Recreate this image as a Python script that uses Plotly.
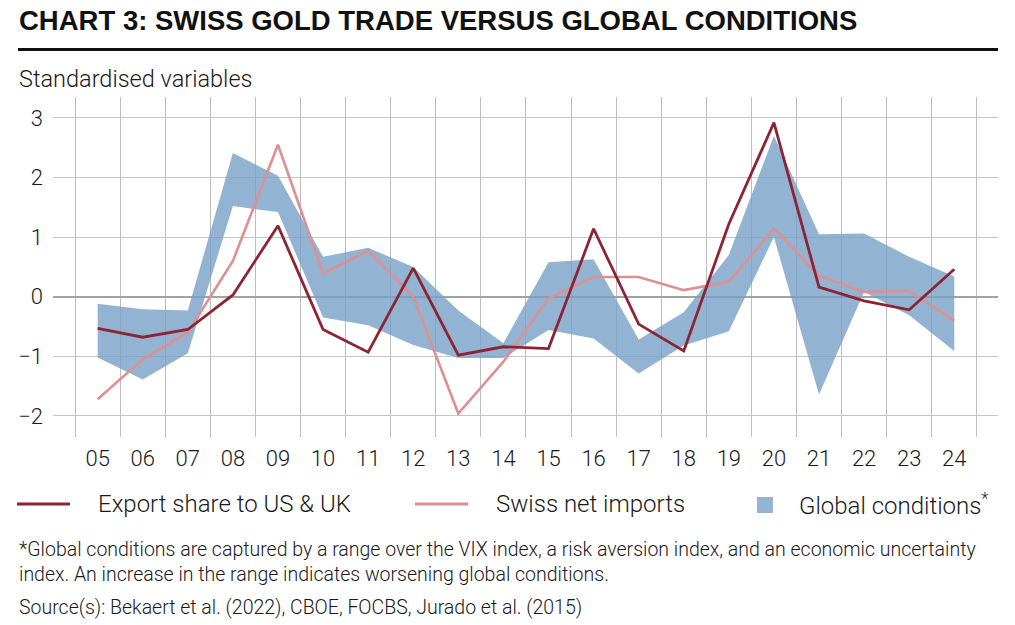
import plotly.graph_objects as go

# ---------------- data ----------------
years = ["05", "06", "07", "08", "09", "10", "11", "12", "13", "14",
         "15", "16", "17", "18", "19", "20", "21", "22", "23", "24"]
export_share = [-0.53, -0.68, -0.55, 0.03, 1.19, -0.55, -0.93, 0.48, -0.98, -0.84,
                -0.87, 1.14, -0.46, -0.91, 1.22, 2.92, 0.16, -0.07, -0.22, 0.46]
net_imports = [-1.72, -1.05, -0.60, 0.60, 2.55, 0.39, 0.77, 0.00, -1.96, -1.09,
               -0.03, 0.33, 0.33, 0.11, 0.25, 1.14, 0.35, 0.08, 0.10, -0.40]
global_upper = [-0.12, -0.21, -0.23, 2.41, 2.03, 0.67, 0.82, 0.50, -0.23, -0.78,
                0.58, 0.63, -0.72, -0.26, 0.70, 2.70, 1.05, 1.06, 0.67, 0.34]
global_lower = [-1.02, -1.39, -0.95, 1.52, 1.42, -0.35, -0.48, -0.81, -1.03, -1.03,
                -0.56, -0.70, -1.29, -0.82, -0.58, 1.00, -1.64, 0.08, -0.31, -0.91]
y_ticks = [-2, -1, 0, 1, 2, 3]

# ---------------- style ----------------
DARK_RED = "#8c2433"
PINK = "#dc9092"
BAND = "rgba(120,160,200,0.8)"
BAND_SWATCH = "#94b4d3"
TXT = "#1a1a1a"
FONT = "Roboto"

W, H = 1015, 625
L, R, T, B = 53, 17, 97, 188
PW, PH = W - L - R, H - T - B


def px(x):
    return (x - L) / PW


def py(y):
    return (H - B - y) / PH


xi = list(range(len(years)))

fig = go.Figure()
fig.add_trace(go.Scatter(
    x=xi + xi[::-1], y=global_upper + global_lower[::-1],
    fill="toself", fillcolor=BAND, line=dict(width=0),
    mode="lines", name="Global conditions", hoverinfo="skip"))
fig.add_trace(go.Scatter(
    x=xi, y=net_imports, mode="lines", name="Swiss net imports",
    line=dict(color=PINK, width=2.6)))
fig.add_trace(go.Scatter(
    x=xi, y=export_share, mode="lines", name="Export share to US & UK",
    line=dict(color=DARK_RED, width=2.8)))

fig.update_layout(
    width=W, height=H, margin=dict(l=L, r=R, t=T, b=B),
    paper_bgcolor="white", plot_bgcolor="white", showlegend=False,
    font=dict(family=FONT, color=TXT),
    xaxis=dict(
        range=[-0.99, len(years) - 0.03], tickvals=xi, ticktext=years,
        showgrid=False, zeroline=False, showline=False, ticks="",
        tickfont=dict(size=22, family=FONT, weight=300, color=TXT),
        ticklabelstandoff=6,
        minor=dict(tickvals=[i - 0.5 for i in range(len(years) + 1)],
                   showgrid=True, gridcolor="#bdbdbd", gridwidth=1, ticks=""),
    ),
    yaxis=dict(
        range=[-2.354, 3.351], tickvals=y_ticks,
        showgrid=True, gridcolor="#c6c6c6", gridwidth=1,
        zeroline=True, zerolinecolor="#a2a2a2", zerolinewidth=2,
        showline=False, ticks="",
        tickfont=dict(size=22, family=FONT, weight=300, color=TXT),
        ticklabelstandoff=9,
    ),
)

shapes = []
ann = []

# title and rule
ann.append(dict(text="<b>CHART 3: SWISS GOLD TRADE VERSUS GLOBAL CONDITIONS</b>",
                x=px(17), y=py(21), xanchor="left", yanchor="middle",
                font=dict(size=27.5, family="Liberation Sans", color="#111111")))
shapes.append(dict(type="line", xref="paper", yref="paper",
                   x0=px(18), x1=px(998), y0=py(49.5), y1=py(49.5),
                   line=dict(color="#111111", width=3)))
ann.append(dict(text="Standardised variables", x=px(17), y=py(79),
                xanchor="left", yanchor="middle",
                font=dict(size=23.5, family=FONT, weight=300, color=TXT)))

# legend
leg_y = 504
leg_font = dict(size=24, family=FONT, weight=300, color=TXT)
shapes.append(dict(type="line", xref="paper", yref="paper",
                   x0=px(17), x1=px(70), y0=py(leg_y), y1=py(leg_y),
                   line=dict(color=DARK_RED, width=3)))
ann.append(dict(text="Export share to US & UK", x=px(96), y=py(leg_y),
                xanchor="left", yanchor="middle", font=leg_font))
shapes.append(dict(type="line", xref="paper", yref="paper",
                   x0=px(415), x1=px(468), y0=py(leg_y), y1=py(leg_y),
                   line=dict(color=PINK, width=3)))
ann.append(dict(text="Swiss net imports", x=px(494), y=py(leg_y),
                xanchor="left", yanchor="middle", font=leg_font))
shapes.append(dict(type="rect", xref="paper", yref="paper",
                   x0=px(757), x1=px(773), y0=py(497), y1=py(513),
                   fillcolor=BAND_SWATCH, line=dict(width=0)))
ann.append(dict(text="Global conditions<sup>*</sup>", x=px(797), y=py(leg_y),
                xanchor="left", yanchor="middle", font=leg_font))

# footnotes
foot_font = dict(size=19.5, family=FONT, weight=300, color=TXT)
ann.append(dict(text="*Global conditions are captured by a range over the VIX index, a risk aversion index, and an economic uncertainty",
                x=px(17), y=py(549), xanchor="left", yanchor="middle", font=foot_font))
ann.append(dict(text="index. An increase in the range indicates worsening global conditions.",
                x=px(17), y=py(574), xanchor="left", yanchor="middle", font=foot_font))
ann.append(dict(text="Source(s): Bekaert et al. (2022), CBOE, FOCBS, Jurado et al. (2015)",
                x=px(17), y=py(607), xanchor="left", yanchor="middle", font=foot_font))

for a in ann:
    a.update(xref="paper", yref="paper", showarrow=False, align="left")

fig.update_layout(shapes=shapes, annotations=ann)

fig.write_html("out.html")
